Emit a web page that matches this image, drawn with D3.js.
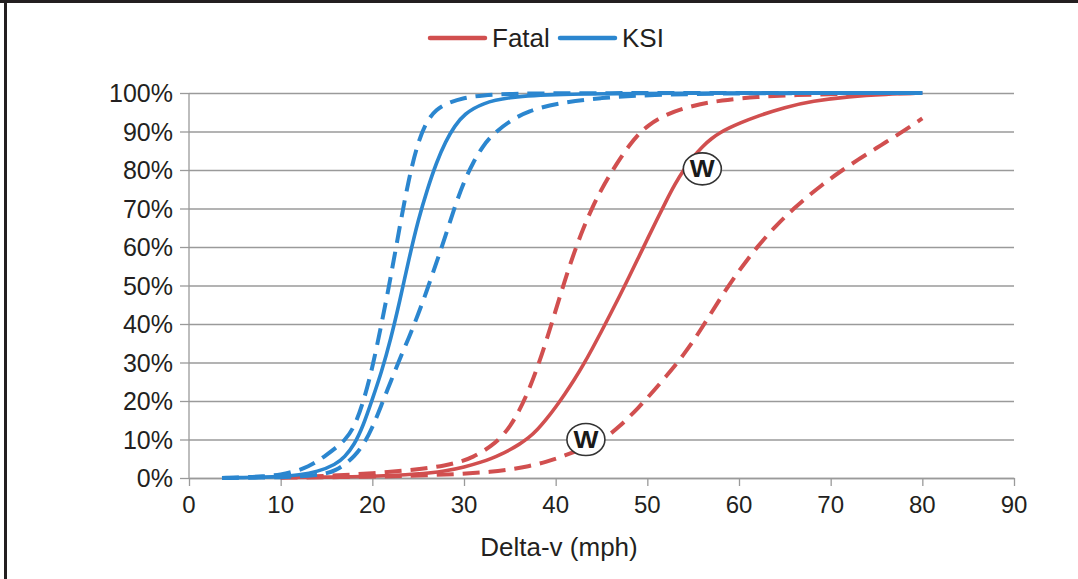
<!DOCTYPE html>
<html>
<head>
<meta charset="utf-8">
<script src="https://cdn.jsdelivr.net/npm/d3@7/dist/d3.min.js"></script>
<style>
  html, body { margin: 0; padding: 0; background: #fff; }
  svg { display: block; }
  text { font-family: "Liberation Sans", Arial, sans-serif; fill: #231f20; }
</style>
</head>
<body>
<svg id="chart" width="1078" height="579"></svg>
<script>
// ---------------- DATA ----------------
const xTicks = [0, 10, 20, 30, 40, 50, 60, 70, 80, 90];
const yTicks = [0, 10, 20, 30, 40, 50, 60, 70, 80, 90, 100];
const xTitle = "Delta-v (mph)";
const legendNames = ["Fatal", "KSI"];

// KSI (killed or seriously injured)
const ksiMidV = [3.6, 6, 8, 10, 12, 14, 16, 17, 18, 19, 20, 21, 22, 23, 24, 25, 26, 27, 28, 29, 30, 32, 35, 40, 50, 80];
const ksiMidP = [0, 0.1, 0.2, 0.4, 0.8, 1.6, 3.5, 5.5, 8.5, 13.5, 20.5, 27.5, 36, 46, 57, 67, 75, 82, 87.5, 91.5, 94.5, 97.4, 99, 99.7, 100, 100];

const ksiLowV = [3.6, 6, 8, 10, 12, 13, 14, 15, 16, 17, 18, 19, 20, 21, 22, 23, 24, 25, 26, 27, 28, 30, 32, 35, 40, 80];
const ksiLowP = [0, 0.2, 0.4, 0.8, 2, 3, 4.3, 6, 7.8, 9.8, 13, 19.5, 28.5, 40, 52, 65.5, 78, 87.5, 93, 95.7, 97.2, 98.8, 99.4, 99.8, 100, 100];

const ksiHighV = [3.6, 8, 10, 12, 14, 15, 16, 17, 18, 19, 20, 21, 22, 23, 24, 25, 26, 27, 28, 29, 30, 31, 32, 33, 35, 37, 40, 45, 50, 60, 80];
const ksiHighP = [0, 0.1, 0.2, 0.4, 0.8, 1.2, 2, 3.5, 5.5, 8.5, 13, 19, 25, 31, 36.5, 42.5, 49, 56, 63, 70.5, 77, 82, 86, 89, 92.8, 95.3, 97.3, 98.8, 99.5, 100, 100];

// Fatal
const fatalMidV = [10, 15, 20, 25, 28, 30, 32, 33, 34, 35, 36, 37, 38, 39, 40, 41, 42, 43, 44, 45, 46, 47, 48, 49, 50, 51, 52, 53, 54, 55, 56, 57, 58, 59, 60, 62, 65, 68, 72, 76, 80];
const fatalMidP = [0.1, 0.2, 0.4, 1.0, 1.8, 2.8, 4.2, 5.1, 6.1, 7.3, 8.7, 10.3, 12.5, 15.3, 18.4, 21.8, 25.4, 29.3, 33.6, 38.1, 42.7, 47.4, 52.2, 57.1, 62, 66.9, 71.7, 76.3, 80.2, 83.4, 86.1, 88.2, 89.8, 91, 92.1, 94, 96.3, 97.9, 99.1, 99.7, 100];

const fatalLowV = [10, 15, 20, 25, 28, 30, 31, 32, 33, 34, 35, 36, 37, 38, 39, 40, 41, 42, 43, 44, 45, 46, 47, 48, 49, 50, 52, 55, 58, 62, 66, 72, 80];
const fatalLowP = [0.2, 0.5, 1.2, 2.2, 3.2, 4.5, 5.5, 6.8, 8.4, 10.4, 13.3, 17.3, 22.4, 28.6, 35.8, 43.5, 51.3, 58.5, 64.8, 70.3, 75, 79.1, 82.9, 86.3, 89.2, 91.5, 94.5, 96.8, 98.1, 99, 99.5, 99.8, 100];

const fatalHighV = [10, 20, 25, 30, 33, 35, 37, 39, 41, 43, 45, 46, 47, 48, 49, 50, 51, 52, 53, 54, 55, 56, 57, 58, 59, 60, 61, 62, 63, 64, 65, 66, 67, 68, 69, 70, 71, 72, 73, 74, 75, 76, 77, 78, 79, 80];
const fatalHighP = [0.1, 0.3, 0.6, 1.1, 1.6, 2.2, 3, 4.2, 5.8, 7.7, 9.8, 11.5, 13.5, 15.8, 18.2, 20.8, 23.5, 26.3, 29.1, 32.2, 35.5, 39.2, 43, 46.8, 50.4, 53.8, 57, 60, 62.8, 65.4, 67.8, 70, 72.1, 74.1, 76, 77.8, 79.5, 81.1, 82.7, 84.2, 85.7, 87.2, 88.7, 90.2, 91.8, 93.4];

// "W" markers (delta-v, percent)
const markerV = [56.0, 43.3];
const markerP = [80.3, 10.0];
const markerLabel = ["W", "W"];

// ---------------- CHART ----------------
const RED = "#d14f4f", BLUE = "#2b86cf";
const svg = d3.select("#chart");

// frame
svg.append("rect").attr("x", 0).attr("y", 0).attr("width", 1078).attr("height", 3).attr("fill", "#231f20");
svg.append("rect").attr("x", 4).attr("y", 0).attr("width", 3).attr("height", 579).attr("fill", "#231f20");

const x = d3.scaleLinear().domain([0, 90]).range([189, 1014]);
const y = d3.scaleLinear().domain([0, 100]).range([478, 93]);

// gridlines + y ticks
const gy = svg.append("g").attr("transform", "translate(189,0)")
  .call(d3.axisLeft(y).tickValues(yTicks).tickSize(-(1014 - 189)).tickSizeOuter(0).tickFormat(""));
gy.select(".domain").remove();
gy.selectAll(".tick line").attr("stroke", "#9a9a9a").attr("stroke-width", 1.3);
gy.selectAll(".tick").append("line").attr("x1", -9).attr("x2", 0).attr("stroke", "#9a9a9a").attr("stroke-width", 1.3);

// y axis line
svg.append("line").attr("x1", 189).attr("x2", 189).attr("y1", 93).attr("y2", 478)
  .attr("stroke", "#9a9a9a").attr("stroke-width", 1.3);

// y labels
svg.append("g").selectAll("text").data(yTicks).join("text")
  .attr("x", 173).attr("y", d => y(d) + 9)
  .attr("text-anchor", "end").attr("font-size", 25)
  .text(d => d + "%");

// x axis
const gx = svg.append("g").attr("transform", "translate(0,478)")
  .call(d3.axisBottom(x).tickValues(xTicks).tickSize(8).tickSizeOuter(0).tickFormat(""));
gx.select(".domain").attr("stroke", "#9a9a9a").attr("stroke-width", 1.3);
gx.selectAll(".tick line").attr("stroke", "#9a9a9a").attr("stroke-width", 1.3);
svg.append("g").selectAll("text").data(xTicks).join("text")
  .attr("x", d => x(d)).attr("y", 513)
  .attr("text-anchor", "middle").attr("font-size", 24)
  .text(d => d);

svg.append("text").attr("x", 559).attr("y", 556).attr("text-anchor", "middle")
  .attr("font-size", 26).text(xTitle);

// curves
const line = d3.line().x(d => x(d[0])).y(d => y(d[1])).curve(d3.curveBasis);
const zip = (a, b) => a.map((v, i) => [v, b[i]]);
const series = [
  { v: fatalLowV, p: fatalLowP, c: RED, dash: true },
  { v: fatalHighV, p: fatalHighP, c: RED, dash: true },
  { v: fatalMidV, p: fatalMidP, c: RED, dash: false },
  { v: ksiLowV, p: ksiLowP, c: BLUE, dash: true },
  { v: ksiHighV, p: ksiHighP, c: BLUE, dash: true },
  { v: ksiMidV, p: ksiMidP, c: BLUE, dash: false }
];
svg.append("g").selectAll("path").data(series).join("path")
  .attr("d", s => line(zip(s.v, s.p)))
  .attr("fill", "none")
  .attr("stroke", s => s.c)
  .attr("stroke-width", s => s.dash ? 4 : 3.6)
  .attr("stroke-dasharray", s => s.dash ? "17,9" : null)
  .attr("stroke-linecap", "butt");

// W markers
const mk = svg.append("g").selectAll("g").data(markerV.map((v, i) => ({ v, p: markerP[i], t: markerLabel[i] }))).join("g")
  .attr("transform", d => `translate(${x(d.v)},${y(d.p)})`);
mk.append("ellipse").attr("rx", 19).attr("ry", 16).attr("fill", "#fff").attr("stroke", "#333").attr("stroke-width", 1.6);
mk.append("text").attr("text-anchor", "middle").attr("y", 8).attr("font-size", 23).attr("font-weight", "bold")
  .attr("transform", "scale(1.15,1)")
  .style("fill", "#1a1a1a").text(d => d.t);

// legend
const leg = [{ n: legendNames[0], c: RED, x0: 430 }, { n: legendNames[1], c: BLUE, x0: 560 }];
const lg = svg.append("g").selectAll("g").data(leg).join("g");
lg.append("line").attr("x1", d => d.x0).attr("x2", d => d.x0 + 55).attr("y1", 38).attr("y2", 38)
  .attr("stroke", d => d.c).attr("stroke-width", 4.5).attr("stroke-linecap", "round");
lg.append("text").attr("x", d => d.x0 + 62).attr("y", 47).attr("font-size", 26).text(d => d.n);
</script>
</body>
</html>
